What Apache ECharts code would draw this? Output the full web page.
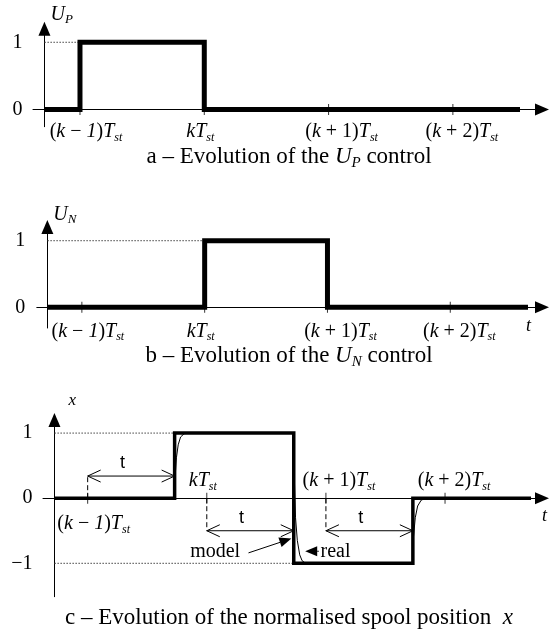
<!DOCTYPE html>
<html>
<head>
<meta charset="utf-8">
<script src="https://cdn.jsdelivr.net/npm/echarts@6/dist/echarts.min.js"></script>
<style>
  html, body { margin: 0; padding: 0; background: #fff; }
  #chart { width: 550px; height: 634px; }
</style>
</head>
<body>
<div id="chart"></div>
<script>
// time is counted in sampling periods T_st, origin at (k-1)T_st
const tickTimes = [0, 1, 2, 3];
const tickLabels = [
  "{p|(}{i|k}{p| − }{i|1}{p|)}{i|T}{s|st}",
  "{i|kT}{s|st}",
  "{p|(}{i|k}{p| + 1)}{i|T}{s|st}",
  "{p|(}{i|k}{p| + 2)}{i|T}{s|st}",
];
const labelShift = [6, -4, 13, 9]; // px, label centre vs tick

// a - U_P control
const upTime = [-0.286, 0, 0, 1, 1, 3.54];
const upValue = [0, 0, 1, 1, 0, 0];
// b - U_N control
const unTime = [-0.281, 1, 1, 2, 2, 3.633];
const unValue = [0, 0, 1, 1, 0, 0];
// c - normalised spool position
const deadTime = 0.73;
const modelTime = [-0.279, 0.73, 0.73, 1.73, 1.73, 2.73, 2.73, 3.722];
const modelValue = [0, 0, 1, 1, -1, -1, 0, 0];
const realTime = [0.73, 0.735, 0.745, 0.76, 0.78, 0.81, 0.85, 1.73, 1.735, 1.745, 1.76, 1.78, 1.8, 1.83, 2.73, 2.735, 2.75, 2.77, 2.8, 2.84];
const realValue = [0, 0.35, 0.62, 0.82, 0.94, 0.99, 1, 1, 0.3, -0.3, -0.65, -0.87, -0.96, -1, -1, -0.6, -0.3, -0.12, -0.03, 0];
const delayStart = [0, 1, 2];
const delayLevel = [0.34, -0.5, -0.5];
const pointerText = ["model", "real"];
const pointerFrom = [[1.35, -0.84], [1.94, -0.815]];
const pointerTo = [[1.71, -0.62], [1.826, -0.815]];
const pointerTextAt = [[1.28, -0.83], [1.955, -0.82]];
const pointerAlign = ["right", "left"];

const serif = "Liberation Serif";
const sans = "Liberation Sans";

function pairs(xs, ys) {
  return xs.map((x, i) => [x, ys[i]]);
}
// first time a signal reaches a level (end of the dotted guide line)
function firstAt(xs, ys, level) {
  return xs[ys.indexOf(level)];
}

const panels = [
  { grid: { left: 33, right: 8, top: 28.7, height: 98 }, x: [-0.378, 3.717], y: [-0.256, 1.202],
    time: upTime, value: upValue, levels: [0, 1], name: "{i|U}{s|P}", nameGap: 3, namePad: 6,
    width: 5, labelMargin: 10, tName: "", caption: "{n|a – Evolution of the }{i|U}{s|P}{n| control}", capY: 157 },
  { grid: { left: 36.8, right: 8, top: 227, height: 101 }, x: [-0.367, 3.747], y: [-0.311, 1.206],
    time: unTime, value: unValue, levels: [0, 1], name: "{i|U}{s|N}", nameGap: 1, namePad: 6,
    width: 5, labelMargin: 12, tName: "t", tGap: -16, tPad: 10,
    caption: "{n|b – Evolution of the }{i|U}{s|N}{n| control}", capY: 356 },
  { grid: { left: 43, right: 8, top: 420, height: 176.7 }, x: [-0.375, 3.814], y: [-1.513, 1.201],
    time: modelTime, value: modelValue, levels: [-1, 0, 1], name: "{x|x}", nameGap: 10, namePad: 14,
    width: 3.5, labelMargin: 14, tName: "t", tGap: 0, tPad: 9,
    caption: "{n|c – Evolution of the normalised spool position  }{i|x}", capY: 618 },
];

const tickRich = {
  p: { fontFamily: serif, fontSize: 20, lineHeight: 24, color: "#000" },
  i: { fontFamily: serif, fontSize: 20, fontStyle: "italic", lineHeight: 24, color: "#000" },
  s: { fontFamily: serif, fontSize: 12, fontStyle: "italic", lineHeight: 12, verticalAlign: "bottom", color: "#000" },
};
labelShift.forEach((d) => {
  tickRich["w" + Math.abs(d) * 2] = { width: Math.abs(d) * 2 };
});
function tickFormatter(v) {
  const i = tickTimes.indexOf(v);
  const d = labelShift[i];
  const pad = "{w" + Math.abs(d) * 2 + "| }";
  return d >= 0 ? pad + tickLabels[i] : tickLabels[i] + pad;
}

const nameRich = {
  i: { fontFamily: serif, fontSize: 20, fontStyle: "italic", lineHeight: 22, color: "#000" },
  s: { fontFamily: serif, fontSize: 13, fontStyle: "italic", lineHeight: 13, verticalAlign: "bottom", color: "#000" },
  x: { fontFamily: serif, fontSize: 17, fontStyle: "italic", lineHeight: 18, color: "#000" },
};
const capRich = {
  n: { fontFamily: serif, fontSize: 23, fontWeight: "normal", lineHeight: 28, color: "#000" },
  i: { fontFamily: serif, fontSize: 23, fontWeight: "normal", fontStyle: "italic", lineHeight: 28, color: "#000" },
  s: { fontFamily: serif, fontSize: 15, fontWeight: "normal", fontStyle: "italic", lineHeight: 14, verticalAlign: "bottom", color: "#000" },
};

const grids = [], xAxes = [], yAxes = [], series = [], titles = [];

panels.forEach((pn, k) => {
  grids.push(pn.grid);
  const gridW = 550 - pn.grid.left - pn.grid.right;
  const gridH = pn.grid.height;
  // y axis sits where the signal starts, time axis sits on the zero level
  const yOffset = -((pn.time[0] - pn.x[0]) / (pn.x[1] - pn.x[0])) * gridW;
  const xOffset = -((0 - pn.y[0]) / (pn.y[1] - pn.y[0])) * gridH;
  pn.topOffset = -((pn.y[1] - 0) / (pn.y[1] - pn.y[0])) * gridH;

  xAxes.push({
    gridIndex: k, type: "value", min: pn.x[0], max: pn.x[1], position: "bottom", offset: xOffset,
    name: pn.tName, nameLocation: "end", nameGap: pn.tGap || 0,
    nameTextStyle: { fontFamily: serif, fontSize: 18, fontStyle: "italic", color: "#000",
      verticalAlign: "top", padding: [pn.tPad || 0, 0, 0, 0] },
    axisLine: { onZero: false, symbol: ["none", "triangle"], symbolSize: [12, 14],
      lineStyle: { color: "#000", width: 1 } },
    axisTick: { show: false }, splitLine: { show: false },
    axisLabel: { customValues: k === 2 ? [0] : tickTimes, margin: pn.labelMargin,
      formatter: tickFormatter, rich: tickRich },
  });
  yAxes.push({
    gridIndex: k, type: "value", min: pn.y[0], max: pn.y[1], offset: yOffset,
    name: pn.name, nameLocation: "end", nameGap: pn.nameGap,
    nameTextStyle: { align: "left", verticalAlign: "bottom", padding: [0, 0, 0, pn.namePad], rich: nameRich },
    axisLine: { show: true, onZero: false, symbol: ["none", "triangle"], symbolSize: [12, 14],
      lineStyle: { color: "#000", width: 1 } },
    axisTick: { show: false }, splitLine: { show: false },
    axisLabel: { customValues: pn.levels, margin: 22, fontFamily: serif, fontSize: 20, color: "#000",
      formatter: (v) => (v < 0 ? "\u2212" + Math.abs(v) : String(v)) },
  });

  // dotted guide lines from the y axis to the first time each non-zero level is reached
  pn.levels.filter((l) => l !== 0).forEach((l) => {
    series.push({
      type: "line", xAxisIndex: k, yAxisIndex: k, symbol: "none", silent: true, z: 1,
      data: [[pn.time[0], l], [firstAt(pn.time, pn.value, l), l]],
      lineStyle: { color: "#444", width: 1, type: [1.5, 1.5] },
    });
  });
  // small ticks crossing the time axis
  series.push({
    type: "scatter", xAxisIndex: k, yAxisIndex: k, silent: true, z: 1,
    symbol: "rect", symbolSize: [1, 11], itemStyle: { color: "#000" },
    data: tickTimes.map((t) => [t, 0]),
  });
  series.push({
    type: "line", xAxisIndex: k, yAxisIndex: k, symbol: "none", silent: true, z: 3,
    data: pairs(pn.time, pn.value),
    lineStyle: { color: "#000", width: pn.width, join: "miter", cap: "butt" },
  });

  titles.push({
    text: pn.caption, left: 289, top: pn.capY - 14, textAlign: "center", padding: 0,
    textStyle: { fontWeight: "normal", rich: capRich },
  });
});

// second time axis in panel c: labels above the zero line
xAxes.push({
  gridIndex: 2, type: "value", min: panels[2].x[0], max: panels[2].x[1],
  position: "top", offset: panels[2].topOffset,
  axisLine: { show: false, onZero: false },
  axisTick: { show: false }, splitLine: { show: false },
  axisLabel: { customValues: [1, 2, 3], margin: 5, formatter: tickFormatter, rich: tickRich },
});

// real spool response
series.push({
  type: "line", xAxisIndex: 2, yAxisIndex: 2, symbol: "none", silent: true, z: 4,
  data: pairs(realTime, realValue),
  lineStyle: { color: "#000", width: 1 },
});

// delay arrows "t"
series.push({
  type: "custom", xAxisIndex: 2, yAxisIndex: 2, silent: true, z: 5,
  data: delayStart.map((s, i) => [s, s + deadTime, delayLevel[i]]),
  renderItem: function (params, api) {
    const a = api.coord([api.value(0), api.value(2)]);
    const b = api.coord([api.value(1), api.value(2)]);
    const z = api.coord([api.value(0), 0]);
    const l = 13, h = 6;
    const st = { stroke: "#000", lineWidth: 1, fill: null };
    return {
      type: "group",
      children: [
        { type: "line", shape: { x1: z[0], y1: z[1], x2: a[0], y2: a[1] }, style: { stroke: "#000", lineWidth: 1, lineDash: [5, 3] } },
        { type: "line", shape: { x1: a[0], y1: a[1], x2: b[0], y2: b[1] }, style: st },
        { type: "polyline", shape: { points: [[a[0] + l, a[1] - h], [a[0], a[1]], [a[0] + l, a[1] + h]] }, style: st },
        { type: "polyline", shape: { points: [[b[0] - l, b[1] - h], [b[0], b[1]], [b[0] - l, b[1] + h]] }, style: st },
        { type: "text", x: a[0] + (b[0] - a[0]) * 0.4, y: a[1] - 13,
          style: { text: "t", font: "18px " + sans, fill: "#000", align: "center", verticalAlign: "middle" } },
      ],
    };
  },
});

// "model" / "real" pointers
series.push({
  type: "custom", xAxisIndex: 2, yAxisIndex: 2, silent: true, z: 5,
  data: pointerFrom.map((p, i) => [p[0], p[1], pointerTo[i][0], pointerTo[i][1], pointerTextAt[i][0], pointerTextAt[i][1]]),
  renderItem: function (params, api) {
    const a = api.coord([api.value(0), api.value(1)]);
    const b = api.coord([api.value(2), api.value(3)]);
    const tp = api.coord([api.value(4), api.value(5)]);
    const ang = Math.atan2(b[1] - a[1], b[0] - a[0]);
    const l = 12, w = 5;
    const bx = b[0] - l * Math.cos(ang), by = b[1] - l * Math.sin(ang);
    const px = -Math.sin(ang) * w, py = Math.cos(ang) * w;
    return {
      type: "group",
      children: [
        { type: "line", shape: { x1: a[0], y1: a[1], x2: bx, y2: by }, style: { stroke: "#000", lineWidth: 1 } },
        { type: "polygon", shape: { points: [b, [bx + px, by + py], [bx - px, by - py]] }, style: { fill: "#000" } },
        { type: "text", x: tp[0], y: tp[1],
          style: { text: pointerText[params.dataIndex], font: "20px " + serif, fill: "#000",
            align: pointerAlign[params.dataIndex], verticalAlign: "middle" } },
      ],
    };
  },
});

const myChart = echarts.init(document.getElementById("chart"));
myChart.setOption({
  animation: false,
  backgroundColor: "#fff",
  title: titles,
  grid: grids,
  xAxis: xAxes,
  yAxis: yAxes,
  series: series,
});
</script>
</body>
</html>
